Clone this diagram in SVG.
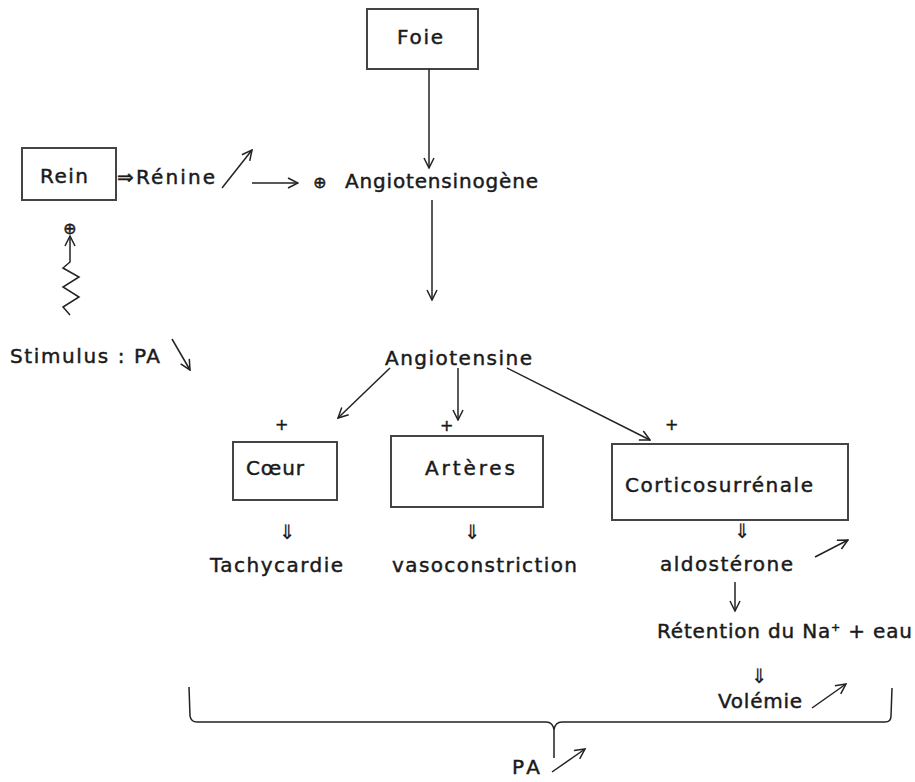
<svg xmlns="http://www.w3.org/2000/svg" width="915" height="782" viewBox="0 0 915 782">
<defs>
<marker id="ah" viewBox="0 0 12 12" refX="11" refY="6" markerWidth="12" markerHeight="12" markerUnits="userSpaceOnUse" orient="auto">
<polyline points="1,1 11,6 1,11" fill="none" stroke="#222" stroke-width="1.5"/>
</marker>
</defs>
<style>
text{font-family:"DejaVu Sans","Liberation Sans",sans-serif;font-size:20px;fill:#1a1a1a;stroke:#1a1a1a;stroke-width:0.45;}
.box{fill:#fff;stroke:#444;stroke-width:2;}
.c{fill:none;stroke:#222;stroke-width:1.5;}
.a{fill:none;stroke:#222;stroke-width:1.5;marker-end:url(#ah);}
.s{font-size:16px;}
.d{font-size:20px;stroke-width:0.2;}
</style>
<rect width="915" height="782" fill="#fff"/>

<g id="foie"><rect class="box" x="367" y="9" width="111" height="60"/><text x="397" y="44" textLength="46">Foie</text></g>
<g id="rein"><rect class="box" x="22" y="148" width="94" height="52"/><text x="40" y="183" textLength="48">Rein</text></g>
<g id="renine"><text x="117" y="184" textLength="98">⇒Rénine</text></g>
<g id="angiotensinogene"><text x="313" y="188" class="s">⊕</text><text x="345" y="188" textLength="193">Angiotensinogène</text></g>
<g id="plusrein"><text x="63" y="234" class="s">⊕</text></g>
<g id="stimulus"><text x="10" y="363" textLength="150">Stimulus : PA</text></g>
<g id="angiotensine"><text x="385" y="365" textLength="147">Angiotensine</text></g>
<g id="plus"><text x="275" y="430" class="s">+</text><text x="440" y="431" class="s">+</text><text x="665" y="430" class="s">+</text></g>
<g id="coeur"><rect class="box" x="233" y="442" width="104" height="58"/><text x="246" y="475" textLength="58">Cœur</text></g>
<g id="arteres"><rect class="box" x="391" y="436" width="152" height="71"/><text x="425" y="475" textLength="90">Artères</text></g>
<g id="cortico"><rect class="box" x="612" y="444" width="236" height="76"/><text x="625" y="492" textLength="188">Corticosurrénale</text></g>
<g id="tachy"><text x="279" y="539" class="d">⇓</text><text x="210" y="572" textLength="133">Tachycardie</text></g>
<g id="vaso"><text x="464" y="539" class="d">⇓</text><text x="392" y="572" textLength="185">vasoconstriction</text></g>
<g id="aldo"><text x="734" y="538" class="d">⇓</text><text x="660" y="571" textLength="133">aldostérone</text></g>
<g id="retention"><text x="657" y="638" textLength="255">Rétention du Na<tspan dy="-7" font-size="11">+</tspan><tspan dy="7"> + eau</tspan></text></g>
<g id="volemie"><text x="751" y="683" class="d">⇓</text><text x="718" y="708" textLength="84">Volémie</text></g>
<g id="pa"><text x="512" y="774" textLength="28">PA</text></g>

<g id="connectors">
<line class="a" x1="429" y1="69" x2="429" y2="168"/>
<line class="a" x1="222" y1="188" x2="252" y2="150"/>
<line class="a" x1="252" y1="183" x2="298" y2="183"/>
<line class="a" x1="432" y1="200" x2="432" y2="300"/>
<polyline class="a" points="70,315 63,307 79,297 63,287 79,277 63,268 70,262 70,236"/>
<line class="a" x1="172" y1="339" x2="190" y2="370"/>
<line class="a" x1="390" y1="368" x2="338" y2="418"/>
<line class="a" x1="458" y1="368" x2="458" y2="420"/>
<line class="a" x1="507" y1="368" x2="650" y2="440"/>
<line class="a" x1="735" y1="582" x2="735" y2="611"/>
<line class="a" x1="815" y1="557" x2="848" y2="540"/>
<line class="a" x1="812" y1="708" x2="846" y2="684"/>
<line class="a" x1="552" y1="772" x2="585" y2="749"/>
<path class="c" stroke-width="2" d="M189,687 L190,716 Q191,722 197,722 L546,722 Q553,722 554,730 L554,758 M554,730 Q555,722 562,722 L885,722 Q891,722 891,716 L892,688"/>
</g>
</svg>
